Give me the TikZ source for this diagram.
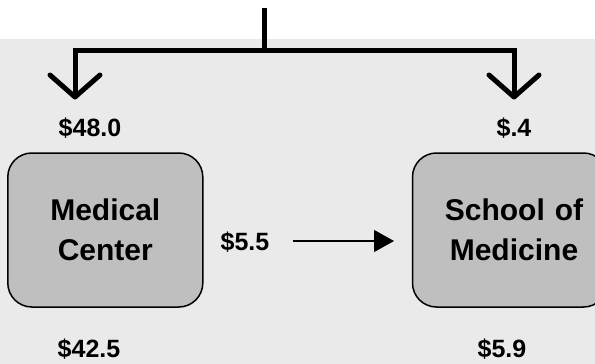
\documentclass[tikz,border=0pt]{standalone}
\usepackage{fontspec}
\setmainfont{Liberation Sans}
\usetikzlibrary{arrows.meta}
\definecolor{bggray}{HTML}{EAEAEA}
\definecolor{boxgray}{HTML}{BFBFBF}
\begin{document}
\begin{tikzpicture}[x=1pt,y=-1pt,
  box/.style={draw=black,line width=1.5pt,fill=boxgray,rounded corners=24pt,minimum width=195pt,minimum height=154pt,inner sep=0pt,align=center,font=\fontsize{30}{40}\selectfont\bfseries},
  amount/.style={inner sep=0pt,font=\fontsize{25}{30}\selectfont\bfseries},
  thick line/.style={line width=5pt},
  vhead/.style={line width=5pt,line cap=round,line join=round}]
\useasboundingbox (0,0) rectangle (595,364);
\fill[white] (0,0) rectangle (595,39);
\fill[bggray] (0,39) rectangle (595,364);
% top connector
\coordinate (top) at (264.5,8);
\coordinate (mid) at (264.5,50);
\coordinate (lc) at (75,50);
\coordinate (rc) at (514,50);
\coordinate (lt) at (75,97);
\coordinate (rt) at (514,97);
\draw[thick line] (top) -- (mid);
\draw[thick line] ([xshift=-2.5pt]lc) -- ([xshift=2.5pt]rc);
\draw[thick line] ([yshift=-2.5pt]lc) -- (lt);
\draw[thick line] ([yshift=-2.5pt]rc) -- (rt);
\draw[vhead] ([shift={(-25,-22)}]lt) -- (lt) -- ([shift={(25,-22)}]lt);
\draw[vhead] ([shift={(-25,-22)}]rt) -- (rt) -- ([shift={(25,-22)}]rt);
% boxes
\node[box] (mc) at (105.3,230) {Medical\\Center};
\node[box,text width=195pt] (sm) at (510,230) {\hspace*{8pt}School of\\\hspace*{8pt}Medicine};
% amounts
\node[amount] (a480) at (90,128) {\$48.0};
\node[amount] (a04) at (514,128) {\$.4};
\node[amount] (a425) at (89,349) {\$42.5};
\node[amount] (a59) at (502,349) {\$5.9};
\node[amount] (a55) at (245,242) {\$5.5};
\coordinate (as) at (293,241);
\coordinate (ae) at (394,241);
\draw[line width=1.3pt,-{Triangle[length=20pt,width=22pt]}] (as) -- (ae);
\end{tikzpicture}
\end{document}
